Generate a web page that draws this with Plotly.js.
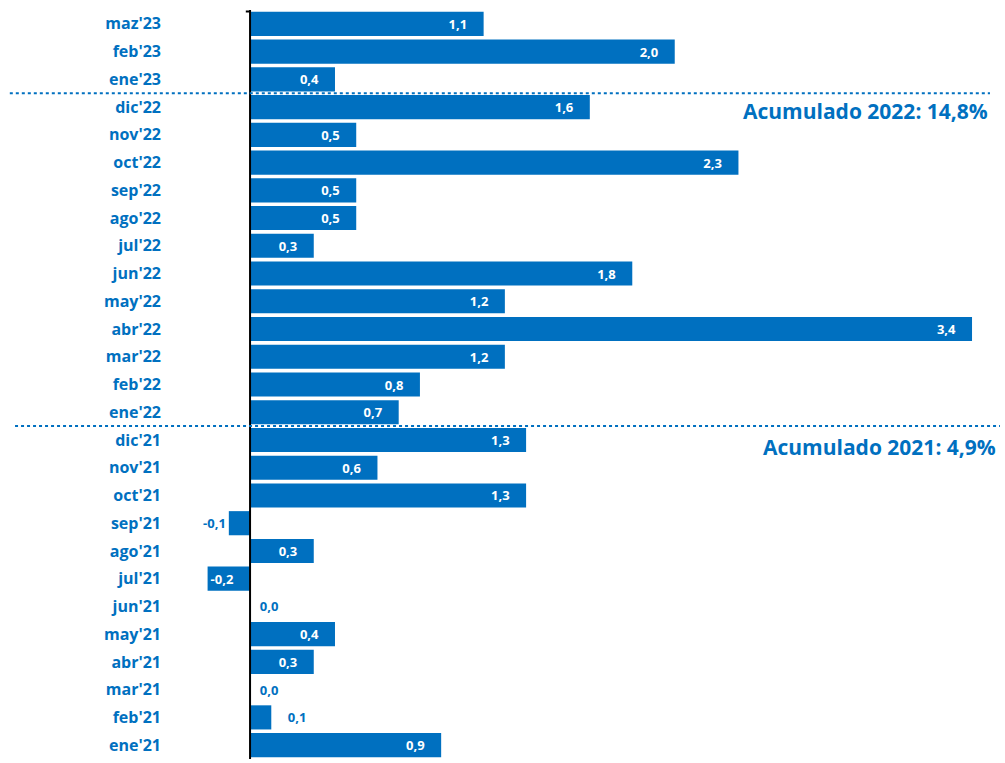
<!DOCTYPE html>
<html>
<head>
<meta charset="utf-8">
<script src="https://cdn.plot.ly/plotly-3.0.1.min.js"></script>
<style>html,body{margin:0;padding:0;background:#fff;}#chart{width:1005px;height:763px;}</style>
</head>
<body>
<div id="chart"></div>
<script>
var categories = ["ene'21","feb'21","mar'21","abr'21","may'21","jun'21","jul'21","ago'21","sep'21","oct'21","nov'21","dic'21",
  "ene'22","feb'22","mar'22","abr'22","may'22","jun'22","jul'22","ago'22","sep'22","oct'22","nov'22","dic'22",
  "ene'23","feb'23","maz'23"];
var values = [0.9,0.1,0.0,0.3,0.4,0.0,-0.2,0.3,-0.1,1.3,0.6,1.3,
  0.7,0.8,1.2,3.4,1.2,1.8,0.3,0.5,0.5,2.3,0.5,1.6,
  0.4,2.0,1.1];
var accumText = ["Acumulado 2021: 4,9%", "Acumulado 2022: 14,8%"];

var blue = '#0070C0';
var NB = '\u00a0';
var positions = values.map(function(v){ return (Math.abs(v) < 0.15) ? 'outside' : 'inside'; });
var labels = values.map(function(v, i){
  var s = v.toFixed(1).replace('.', ',');
  if (positions[i] === 'inside') return s + NB + NB + NB + NB;
  if (v > 0) return NB + NB + NB + NB + s;
  if (v === 0) return NB + NB + s;
  return s;
});

var trace = {
  type: 'bar', orientation: 'h',
  y: categories, x: values,
  marker: {color: blue, line: {width: 0}},
  text: labels, textposition: positions, insidetextanchor: 'end',
  insidetextfont: {color: '#ffffff', size: 13, family: 'Open Sans', weight: 'bold'},
  outsidetextfont: {color: blue, size: 13, family: 'Open Sans', weight: 'bold'},
  textfont: {size: 13, family: 'Open Sans', weight: 'bold'},
  cliponaxis: false,
  hoverinfo: 'skip'
};

var layout = {
  width: 1005, height: 763,
  margin: {l: 170, r: 30, t: 10, b: 4},
  paper_bgcolor: '#fff', plot_bgcolor: '#fff',
  bargap: 0.13,
  showlegend: false,
  font: {family: 'Open Sans', color: blue},
  xaxis: {range: [-0.377, 3.414], showgrid: false, zeroline: false, showticklabels: false, showline: false, ticks: ''},
  yaxis: {type: 'category', categoryorder: 'array', categoryarray: categories,
    showgrid: false, zeroline: false, showline: false, ticks: '',
    ticklabelstandoff: 8,
    tickfont: {family: 'Open Sans', size: 16, color: blue, weight: 'bold'}},
  shapes: [
    {type: 'line', xref: 'x', yref: 'paper', x0: 0, x1: 0, y0: 0, y1: 1, line: {color: '#000', width: 2}},
    {type: 'line', xref: 'x', yref: 'paper', x0: -0.02, x1: 0, y0: 0.998, y1: 0.998, line: {color: '#000', width: 2}},
    {type: 'line', xref: 'paper', yref: 'y', x0: -0.199, x1: 1.0186, y0: 23.5, y1: 23.5, line: {color: blue, width: 2, dash: 'dot'}},
    {type: 'line', xref: 'paper', yref: 'y', x0: -0.1925, x1: 1.031, y0: 11.5, y1: 11.5, line: {color: blue, width: 2, dash: 'dot'}}
  ],
  annotations: [
    {xref: 'paper', yref: 'y', x: 1.0285, y: 10.75, text: accumText[0], showarrow: false, xanchor: 'right', yanchor: 'middle',
      font: {family: 'Open Sans', size: 21, color: blue, weight: 'bold'}},
    {xref: 'paper', yref: 'y', x: 1.0186, y: 22.85, text: accumText[1], showarrow: false, xanchor: 'right', yanchor: 'middle',
      font: {family: 'Open Sans', size: 21, color: blue, weight: 'bold'}}
  ]
};

Plotly.newPlot('chart', [trace], layout, {displayModeBar: false, staticPlot: true});
</script>
</body>
</html>
